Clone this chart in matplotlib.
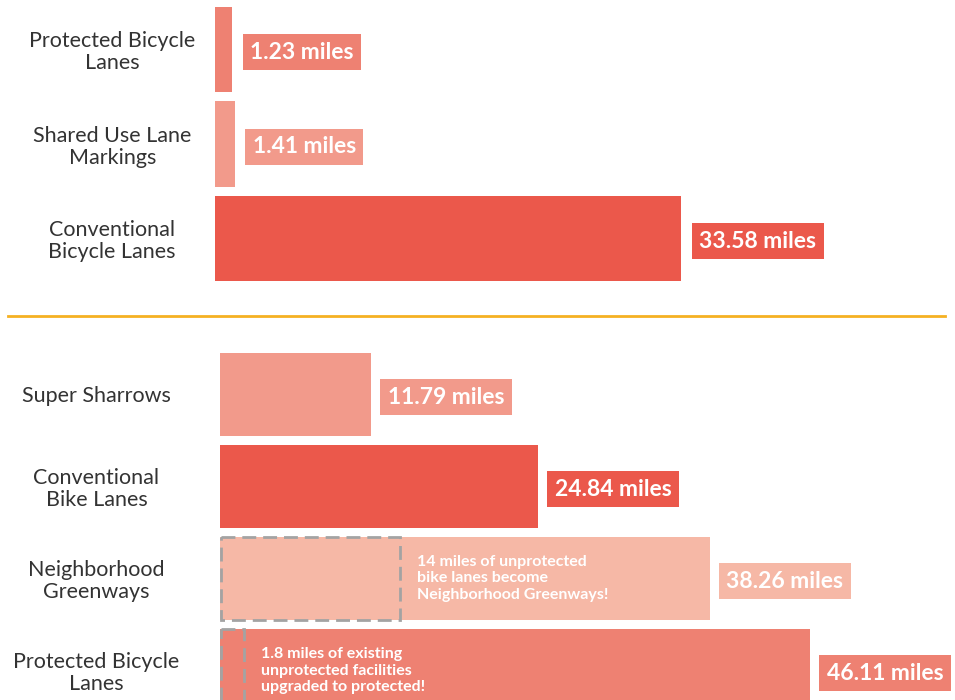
import matplotlib
matplotlib.use('Agg')
from matplotlib import pyplot as plt
from matplotlib.patches import Rectangle
from matplotlib.lines import Line2D

plt.rcParams['font.family'] = ['Lato', 'DejaVu Sans']

# existing network
top_labels = ['Protected Bicycle\nLanes', 'Shared Use Lane\nMarkings', 'Conventional\nBicycle Lanes']
top_miles = [1.23, 1.41, 33.58]
top_colors = ['#EE8172', '#F29A8B', '#EB584B']

# proposed network
bot_labels = ['Super Sharrows', 'Conventional\nBike Lanes', 'Neighborhood\nGreenways', 'Protected Bicycle\nLanes']
bot_miles = [11.79, 24.84, 38.26, 46.11]
bot_colors = ['#F29A8B', '#EB584B', '#F6B8A6', '#EE8172']

# converted facilities shown as dashed boxes
conv_rows = [2, 3]
conv_miles = [14, 1.8]
conv_notes = ['14 miles of unprotected\nbike lanes become\nNeighborhood Greenways!',
              '1.8 miles of existing\nunprotected facilities\nupgraded to protected!']

W, H = 955, 700
fig = plt.figure(figsize=(W/100, H/100), dpi=100)

def px_axes(left, top, width, height):
    return fig.add_axes([left/W, 1-(top+height)/H, width/W, height/H])

def style(ax, labels, pad):
    ax.set_yticks(range(len(labels)))
    ax.set_yticklabels(labels, ha='center', multialignment='center',
                       fontsize=15.5, color='#333333', linespacing=1.1)
    ax.tick_params(axis='y', length=0, pad=pad)
    ax.set_xticks([])
    for s in ax.spines.values():
        s.set_visible(False)
    ax.patch.set_alpha(0)

def value_labels(ax, miles, colors, gap):
    for i, (m, c) in enumerate(zip(miles, colors)):
        ax.annotate('%.2f miles' % m, xy=(m, i), xytext=(gap, -2),
                    textcoords='offset points', va='center', ha='left',
                    fontsize=16.5, fontweight='bold', color='white',
                    bbox=dict(boxstyle='square,pad=0.33', fc=c, ec='none'))

# top panel
ax1 = px_axes(215, 2.25, 700, 283.5)
ax1.barh(range(3), top_miles, height=0.9, color=top_colors)
ax1.set_xlim(0, 700/13.88)
ax1.set_ylim(2.5, -0.5)
style(ax1, top_labels, 74)
value_labels(ax1, top_miles, top_colors, 13)

# bottom panel
ax2 = px_axes(220, 348.5, 735, 368)
ax2.barh(range(4), bot_miles, height=0.9, color=bot_colors)
ax2.set_xlim(0, 735/12.8)
ax2.set_ylim(3.5, -0.5)
style(ax2, bot_labels, 89)
value_labels(ax2, bot_miles, bot_colors, 12)

for r, m, note in zip(conv_rows, conv_miles, conv_notes):
    ax2.add_patch(Rectangle((0.05, r-0.45), m, 0.9, fill=False, ec='#A3A3A3',
                            lw=2, ls=(0, (5, 2.5)), clip_on=False))
    ax2.annotate(note, xy=(m, r), xytext=(13, 0), textcoords='offset points',
                 va='center', ha='left', fontsize=11.5, fontweight='bold',
                 color='white', linespacing=1.2)

# divider between the two panels
fig.add_artist(Line2D([8/W, 945/W], [1-316/H, 1-316/H], color='#F5B122', lw=2))

fig.savefig('out.png', dpi=100)
